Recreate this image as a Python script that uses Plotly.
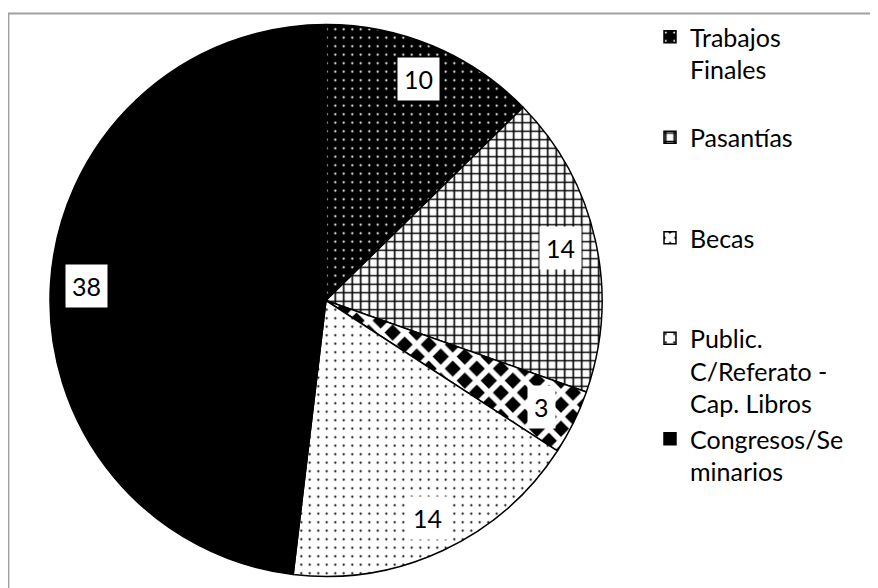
import math
import plotly.graph_objects as go

# ---- data ----
categories = ["Trabajos Finales", "Pasantías", "Becas",
              "Public. C/Referato - Cap. Libros", "Congresos/Seminarios"]
values = [10, 14, 3, 14, 38]
legend_text = ["Trabajos<br>Finales<br> ", "Pasantías<br> <br> ", "Becas<br> <br> ",
               "Public.<br>C/Referato -<br>Cap. Libros", "Congresos/Se<br>minarios"]

# ---- layout constants (page body has an 8px margin) ----
OFF = 8
W, H = 878 - OFF, 588 - OFF
CX, CY, R = 326 - OFF, 300.5 - OFF, 276
FONT = "Lato"
FS = 25

patterns = [
    dict(shape=".", fgcolor="white", bgcolor="black", size=8.5, solidity=0.05),
    dict(shape="+", fgcolor="black", bgcolor="white", size=8.5, solidity=0.35),
    dict(shape="x", fgcolor="white", bgcolor="black", size=17, solidity=0.55),
    dict(shape=".", fgcolor="black", bgcolor="white", size=8.5, solidity=0.05),
    dict(shape="", fgcolor="black", bgcolor="black", size=8, solidity=0.3),
]
colors = ["black", "white", "black", "white", "black"]

fig = go.Figure()
fig.add_trace(go.Pie(
    labels=legend_text,
    values=values,
    sort=False,
    direction="clockwise",
    rotation=0,
    textinfo="none",
    hoverinfo="label+value",
    marker=dict(colors=colors, pattern=dict(
        shape=[p["shape"] for p in patterns],
        fgcolor=[p["fgcolor"] for p in patterns],
        bgcolor=[p["bgcolor"] for p in patterns],
        size=[p["size"] for p in patterns],
        solidity=[p["solidity"] for p in patterns],
        fillmode="replace"),
        line=dict(color="black", width=1.5)),
    domain=dict(x=[(CX - R) / W, (CX + R) / W], y=[1 - (CY + R) / H, 1 - (CY - R) / H]),
))

# value labels at the slice mid-angles
total = sum(values)
cum = 0
annotations = []
for v in values:
    mid = (cum + v / 2) / total * 2 * math.pi
    cum += v
    d = 0.87 * R
    px = CX + d * math.sin(mid)
    py = CY - d * math.cos(mid)
    annotations.append(dict(x=px / W, y=1 - py / H, xref="paper", yref="paper",
                            xanchor="center", yanchor="middle",
                            text=str(v), showarrow=False, bgcolor="white", borderpad=6,
                            font=dict(family=FONT, size=FS, color="black")))

fig.update_layout(
    width=W, height=H,
    margin=dict(l=0, r=0, t=0, b=0),
    paper_bgcolor="white", plot_bgcolor="white",
    font=dict(family=FONT, size=FS, color="black"),
    showlegend=True,
    legend=dict(x=(650 - OFF) / W, y=1 - (14 - OFF) / H, xanchor="left", yanchor="top",
                valign="top", font=dict(family=FONT, size=FS, color="black"),
                bgcolor="rgba(0,0,0,0)", tracegroupgap=0),
    annotations=annotations,
    shapes=[dict(type="rect", xref="paper", yref="paper",
                 x0=0.5 / W, x1=1.05, y0=-0.05, y1=1 - (13.5 - OFF) / H,
                 line=dict(color="#a0a0a0", width=1.8), fillcolor="rgba(0,0,0,0)")],
)

fig.write_html("out.html")
